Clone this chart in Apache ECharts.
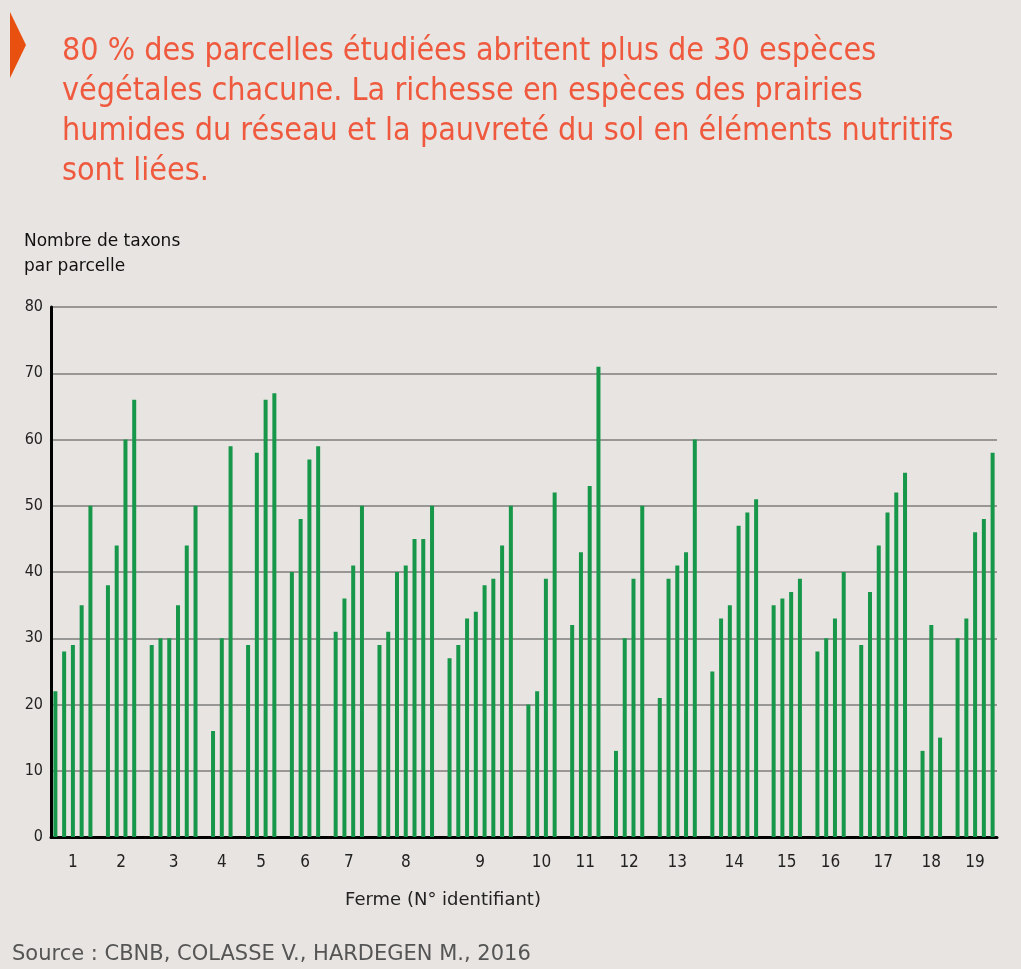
<!DOCTYPE html>
<html>
<head>
<meta charset="utf-8">
<script src="https://cdn.jsdelivr.net/npm/echarts@6/dist/echarts.min.js"></script>
<style>
  html, body { margin: 0; padding: 0; background: #e8e4e1; }
  #main { width: 1021px; height: 969px; }
</style>
</head>
<body>
<div id="main"></div>
<script>
// numéro de ferme
var fermes = ['1', '2', '3', '4', '5', '6', '7', '8', '9', '10',
    '11', '12', '13', '14', '15', '16', '17', '18', '19'];

// nombre de taxons par parcelle, une liste par ferme
var taxons = [
    [22, 28, 29, 35, 50],
    [38, 44, 60, 66],
    [29, 30, 30, 35, 44, 50],
    [16, 30, 59],
    [29, 58, 66, 67],
    [40, 48, 57, 59],
    [31, 36, 41, 50],
    [29, 31, 40, 41, 45, 45, 50],
    [27, 29, 33, 34, 38, 39, 44, 50],
    [20, 22, 39, 52],
    [32, 43, 53, 71],
    [13, 30, 39, 50],
    [21, 39, 41, 43, 60],
    [25, 33, 35, 47, 49, 51],
    [35, 36, 37, 39],
    [28, 30, 33, 40],
    [29, 37, 44, 49, 52, 55],
    [13, 32, 15],
    [30, 33, 46, 48, 58]
];

var yMax = 80, yStep = 10;

// une case vide entre deux fermes
var categories = [], values = [], centres = [], labelAt = {};
taxons.forEach(function(list, f){
    if (f > 0) {
        categories.push('gap' + f);
        values.push(null);
    }
    var start = categories.length;
    list.forEach(function(v, i){
        categories.push(fermes[f] + '-' + (i + 1));
        values.push(v);
    });
    var c = start + list.length / 2;
    centres.push(c);
    labelAt[c] = fermes[f];
});

var font = '"DejaVu Sans Condensed", "Liberation Sans Narrow", "DejaVu Sans", sans-serif';
var fontWide = '"DejaVu Sans", sans-serif';

var myChart = echarts.init(document.getElementById('main'));

var option = {
    backgroundColor: '#e8e4e1',
    animation: false,
    title: {
        text: '80 % des parcelles étudiées abritent plus de 30 espèces\nvégétales chacune. La richesse en espèces des prairies\nhumides du réseau et la pauvreté du sol en éléments nutritifs\nsont liées.',
        left: 57,
        top: 27,
        textStyle: {
            fontFamily: font,
            fontSize: 32,
            fontWeight: 'normal',
            lineHeight: 40,
            color: '#ef5a3e'
        }
    },
    graphic: [
        {
            type: 'polygon',
            shape: { points: [[10, 12], [26, 45], [10, 78]] },
            style: { fill: '#e8500f' }
        },
        {
            type: 'text',
            style: {
                x: 443, y: 900,
                text: 'Ferme (N° identifiant)',
                font: '18px ' + fontWide,
                fill: '#222',
                textAlign: 'center',
                textVerticalAlign: 'middle'
            }
        },
        {
            type: 'text',
            style: {
                x: 12, y: 955,
                text: 'Source : CBNB, COLASSE V., HARDEGEN M., 2016',
                font: '21px ' + fontWide,
                fill: '#555',
                textVerticalAlign: 'middle'
            }
        }
    ],
    grid: {
        left: 51,
        right: 24,
        top: 307,
        bottom: 132
    },
    xAxis: [
        {
            type: 'category',
            data: categories,
            axisLine: { lineStyle: { color: '#000', width: 3 } },
            axisTick: { show: false },
            axisLabel: { show: false }
        },
        {
            type: 'value',
            min: 0,
            max: categories.length,
            position: 'bottom',
            axisLine: { show: false },
            axisTick: { show: false },
            splitLine: { show: false },
            axisLabel: {
                customValues: centres,
                formatter: function(v){ return labelAt[v] || ''; },
                margin: 17,
                fontFamily: font,
                fontSize: 17,
                color: '#222'
            }
        }
    ],
    yAxis: {
        type: 'value',
        min: 0,
        max: yMax,
        interval: yStep,
        name: 'Nombre de taxons\npar parcelle',
        nameLocation: 'end',
        nameGap: 28,
        nameTextStyle: {
            align: 'left',
            fontFamily: fontWide,
            fontSize: 17,
            lineHeight: 25,
            color: '#111',
            padding: [0, 0, 0, -27]
        },
        axisLine: { show: true, lineStyle: { color: '#000', width: 3 } },
        axisTick: { show: false },
        axisLabel: {
            margin: 8,
            fontFamily: font,
            fontSize: 16,
            color: '#222'
        },
        splitLine: { lineStyle: { color: '#999795', width: 2 } }
    },
    series: [
        {
            type: 'bar',
            xAxisIndex: 0,
            data: values,
            barWidth: 4,
            itemStyle: { color: '#17974a' }
        }
    ]
};

myChart.setOption(option);
</script>
</body>
</html>
